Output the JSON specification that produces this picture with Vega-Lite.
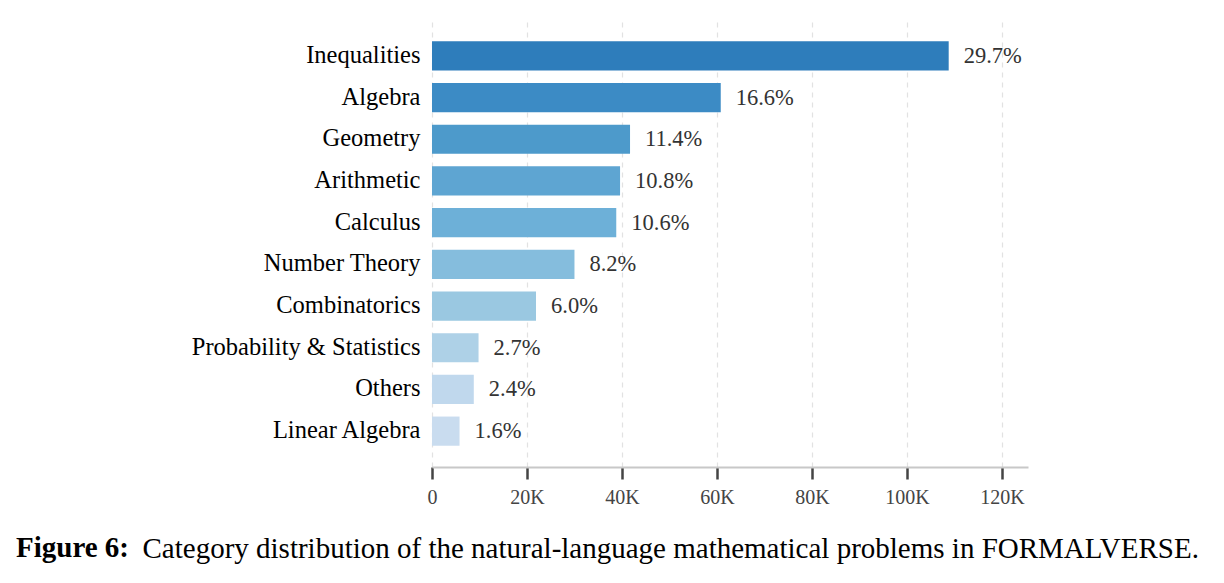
{
  "$schema": "https://vega.github.io/schema/vega-lite/v6.json",
  "description": "Category distribution of natural-language math problems",
  "autosize": {"type": "none"},
  "width": 596,
  "height": 447,
  "padding": {"left": 432, "top": 20, "right": 196, "bottom": 116},
  "background": "white",
  "title": {
    "text": "Figure 6:",
    "orient": "bottom",
    "anchor": "start",
    "frame": "group",
    "font": "Liberation Serif",
    "fontSize": 29,
    "fontWeight": "bold",
    "color": "black",
    "offset": 0,
    "dx": -416,
    "dy": -29
  },
  "data": {
    "values": [
      {"category": "Inequalities", "count": 108800, "pct": "29.7%"},
      {"category": "Algebra", "count": 60800, "pct": "16.6%"},
      {"category": "Geometry", "count": 41700, "pct": "11.4%"},
      {"category": "Arithmetic", "count": 39600, "pct": "10.8%"},
      {"category": "Calculus", "count": 38800, "pct": "10.6%"},
      {"category": "Number Theory", "count": 30000, "pct": "8.2%"},
      {"category": "Combinatorics", "count": 21900, "pct": "6.0%"},
      {"category": "Probability & Statistics", "count": 9800, "pct": "2.7%"},
      {"category": "Others", "count": 8800, "pct": "2.4%"},
      {"category": "Linear Algebra", "count": 5800, "pct": "1.6%"}
    ]
  },
  "encoding": {
    "y": {
      "field": "category",
      "type": "nominal",
      "sort": null,
      "title": null,
      "scale": {"paddingInner": 0.3, "paddingOuter": 0.51},
      "axis": {
        "domain": false,
        "ticks": false,
        "grid": false,
        "labelFont": "Liberation Serif",
        "labelFontSize": 24.5,
        "labelColor": "black",
        "labelPadding": 12,
        "labelLimit": 400
      }
    },
    "x": {
      "field": "count",
      "type": "quantitative",
      "title": "Category distribution of the natural-language mathematical problems in FORMALVERSE.",
      "scale": {"domain": [0, 125500], "nice": false},
      "axis": {
        "values": [0, 20000, 40000, 60000, 80000, 100000, 120000],
        "labelExpr": "datum.value == 0 ? '0' : (datum.value / 1000) + 'K'",
        "labelFont": "Liberation Serif",
        "labelFontSize": 20,
        "labelColor": "#444",
        "labelPadding": 8,
        "labelFlush": false,
        "domainColor": "#c8c8c8",
        "domainWidth": 2,
        "tickColor": "#444",
        "tickWidth": 2.5,
        "tickSize": 12,
        "grid": true,
        "gridColor": "#e2e2e2",
        "gridDash": [5, 5],
        "gridWidth": 1.2,
        "titleFont": "Liberation Serif",
        "titleFontSize": 29,
        "titleFontWeight": "normal",
        "titleColor": "black",
        "titleAlign": "left",
        "titleAnchor": "start",
        "titleBaseline": "alphabetic",
        "titleX": -290,
        "titleY": 90
      }
    }
  },
  "layer": [
    {
      "mark": {"type": "bar"},
      "encoding": {
        "color": {
          "field": "category",
          "type": "nominal",
          "legend": null,
          "scale": {
            "domain": ["Inequalities", "Algebra", "Geometry", "Arithmetic", "Calculus", "Number Theory", "Combinatorics", "Probability & Statistics", "Others", "Linear Algebra"],
            "range": ["#2e7dbb", "#3c8bc5", "#4d9acb", "#5ea5d2", "#6db0d8", "#85bddd", "#9ac8e1", "#aed1e7", "#c0d8ed", "#c9dcef"]
          }
        }
      }
    },
    {
      "mark": {
        "type": "text",
        "align": "left",
        "baseline": "middle",
        "dx": 15,
        "font": "Liberation Serif",
        "fontSize": 22.5,
        "color": "#333"
      },
      "encoding": {"text": {"field": "pct"}}
    }
  ],
  "config": {"view": {"stroke": null}}
}
